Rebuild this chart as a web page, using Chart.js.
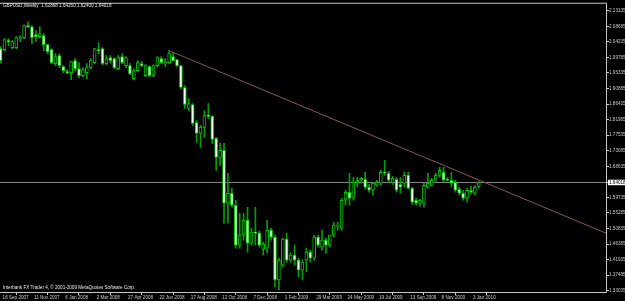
<!DOCTYPE html>
<html>
<head>
<meta charset="utf-8">
<script src="https://cdn.jsdelivr.net/npm/chart.js@4.4.1/dist/chart.umd.min.js"></script>
<style>
  html, body { margin: 0; padding: 0; background: #000; }
  #wrap { width: 625px; height: 301px; }
</style>
</head>
<body>
<div id="wrap"><canvas id="chart"></canvas></div>
<script>
/* GBPUSD weekly candles, 16 Sep 2007 .. 17 Jan 2010 (bar index 0..122) */
const OPEN = [2.0229,2.0201,2.0458,2.0258,2.0258,2.0515,2.0543,2.0886,2.0857,2.0629,
  2.0572,2.0600,2.0344,2.0201,1.9801,2.0030,1.9716,1.9573,1.9545,1.9887,
  1.9659,1.9459,1.9545,1.9687,1.9830,2.0201,2.0229,1.9801,1.9973,1.9944,
  1.9659,2.0001,1.9744,1.9744,1.9373,1.9602,1.9801,1.9459,1.9716,1.9459,
  1.9744,1.9944,1.9830,1.9830,2.0001,1.9916,1.9744,1.9117,1.8517,1.8632,
  1.8118,1.7804,1.7976,1.8318,1.8290,1.7662,1.7120,1.7319,1.5807,1.6093,
  1.5750,1.4609,1.4894,1.5322,1.4666,1.4980,1.4951,1.4495,1.4523,1.5037,
  1.4837,1.3611,1.4039,1.4780,1.4181,1.4324,1.4181,1.3896,1.4181,1.4409,
  1.4238,1.4837,1.4552,1.4752,1.4609,1.4894,1.5151,1.5094,1.5893,1.6121,
  1.5950,1.6406,1.6464,1.6492,1.6264,1.6178,1.6321,1.6378,1.6692,1.6664,
  1.6406,1.6492,1.6349,1.6378,1.6606,1.6235,1.5893,1.5807,1.5807,1.6264,
  1.6321,1.6464,1.6606,1.6692,1.6492,1.6464,1.6406,1.6207,1.6093,1.5950,
  1.6178,1.6093,1.62868];
const HIGH = [2.0286,2.0515,2.0515,2.0458,2.0572,2.0600,2.0914,2.0999,2.0886,2.0743,
  2.0857,2.0657,2.0344,2.0229,2.0087,2.0087,1.9744,1.9630,1.9859,1.9944,
  1.9830,1.9687,1.9801,1.9944,2.0229,2.0401,2.0258,2.0030,2.0030,1.9973,
  2.0030,2.0087,2.0001,1.9801,1.9659,1.9887,1.9859,1.9773,1.9744,1.9773,
  2.0001,2.0001,1.9944,2.0172,2.0115,1.9916,1.9744,1.9174,1.8803,1.8660,
  1.8175,1.8033,1.8461,1.8660,1.8318,1.7690,1.7519,1.7519,1.6664,1.6235,
  1.5893,1.5522,1.5522,1.5693,1.5094,1.5693,1.5008,1.4694,1.5322,1.5094,
  1.4894,1.4238,1.4809,1.4951,1.4381,1.4609,1.4238,1.4181,1.4523,1.4467,
  1.4894,1.4894,1.5037,1.4809,1.4894,1.5265,1.5265,1.5950,1.6178,1.6664,
  1.6549,1.6549,1.6549,1.6692,1.6349,1.6406,1.6464,1.6749,1.7034,1.6720,
  1.6578,1.6549,1.6549,1.6692,1.6692,1.6264,1.5950,1.5921,1.6378,1.6664,
  1.6521,1.6664,1.6834,1.6834,1.6549,1.6692,1.6464,1.6264,1.6178,1.6235,
  1.6292,1.6321,1.64260];
const LOW = [1.9830,2.0172,2.0315,2.0229,2.0229,2.0429,2.0515,2.0829,2.0372,2.0429,
  2.0543,2.0172,2.0087,1.9801,1.9744,1.9687,1.9545,1.9516,1.9345,1.9602,
  1.9402,1.9431,1.9373,1.9659,1.9801,2.0087,1.9773,1.9773,1.9830,1.9659,
  1.9630,1.9801,1.9687,1.9488,1.9345,1.9573,1.9716,1.9431,1.9431,1.9431,
  1.9716,1.9801,1.9716,1.9801,1.9887,1.9716,1.9088,1.8517,1.8461,1.8033,
  1.7548,1.7405,1.7690,1.8232,1.7519,1.6749,1.6891,1.5237,1.5237,1.5693,
  1.4523,1.4523,1.4752,1.4409,1.4609,1.4609,1.4552,1.4324,1.4381,1.4752,
  1.3411,1.3325,1.3982,1.4124,1.4124,1.4039,1.3696,1.3611,1.3839,1.4124,
  1.4181,1.4552,1.4467,1.4381,1.4552,1.4837,1.5037,1.5037,1.5750,1.5750,
  1.5893,1.6264,1.6378,1.6207,1.6121,1.6036,1.6292,1.6321,1.6606,1.6406,
  1.6349,1.6121,1.6093,1.6264,1.6207,1.5779,1.5750,1.5722,1.5693,1.6235,
  1.6292,1.6435,1.6549,1.6406,1.6435,1.6264,1.6121,1.6036,1.5893,1.5836,
  1.6064,1.6036,1.62400];
const CLOSE = [1.9887,2.0486,2.0429,2.0429,2.0543,2.0543,2.0886,2.0857,2.0543,2.0572,
  2.0657,2.0344,2.0144,1.9830,2.0001,1.9744,1.9602,1.9545,1.9859,1.9659,
  1.9459,1.9630,1.9687,1.9887,2.0229,2.0172,1.9801,1.9944,1.9887,1.9687,
  1.9973,1.9830,1.9973,1.9516,1.9602,1.9830,1.9744,1.9744,1.9459,1.9744,
  1.9973,1.9830,1.9859,2.0087,1.9887,1.9744,1.9117,1.8632,1.8660,1.8090,
  1.7804,1.7976,1.8318,1.8290,1.7633,1.7120,1.7319,1.5807,1.6093,1.5750,
  1.4609,1.4894,1.5322,1.4666,1.4980,1.4951,1.4609,1.4637,1.5037,1.4837,
  1.3611,1.4181,1.4780,1.4181,1.4324,1.4181,1.3896,1.4124,1.4409,1.4238,
  1.4837,1.4609,1.4752,1.4609,1.4894,1.5180,1.5180,1.5893,1.6121,1.5950,
  1.6406,1.6464,1.6521,1.6264,1.6178,1.6378,1.6406,1.6692,1.6664,1.6464,
  1.6521,1.6178,1.6264,1.6606,1.6235,1.5836,1.5807,1.5893,1.6321,1.6378,
  1.6464,1.6606,1.6749,1.6464,1.6464,1.6378,1.6178,1.6093,1.5950,1.6178,
  1.6121,1.6264,1.64018];

const X_TICK_BARS = [0, 8, 16, 24, 32, 40, 48, 56, 64, 72, 80, 88, 96, 104, 112, 120];
const X_LABELS = ['16 Sep 2007', '11 Nov 2007', '6 Jan 2008', '2 Mar 2008', '27 Apr 2008', '22 Jun 2008',
  '17 Aug 2008', '12 Oct 2008', '7 Dec 2008', '1 Feb 2009', '29 Mar 2009', '24 May 2009',
  '19 Jul 2009', '13 Sep 2009', '8 Nov 2009', '3 Jan 2010'];
const Y_TICKS = [2.13135, 2.08685, 2.04235, 1.99785, 1.95335, 1.90885, 1.86435, 1.81985, 1.77535,
  1.73085, 1.68635, 1.59735, 1.55285, 1.50835, 1.46385, 1.41935, 1.37485, 1.33035];
const LAST_PRICE = 1.64018;
const TREND_BARS = [43, 154.45];
const TREND_PRICES = [2.0172, 1.4951];

const X_MIN = -0.15, X_MAX = 154.45;
const Y_MIN = 1.3268, Y_MAX = 2.1542;

const TITLE = 'GBPUSD,Weekly  1.62868 1.64260 1.62400 1.64018';
const COPYRIGHT = 'Interbank FX Trader 4, \u00a9 2001-2009 MetaQuotes Software Corp.';

const FONT = '"Liberation Sans", Arial, sans-serif';
const FG = '#c8c8c8';
const WICK = '#00a000';
const EDGE = '#00c400';

const bars = OPEN.map((o, i) => i);

// black background, frame and the two text lines MT4 puts inside the chart
const mtFrame = {
    id: 'mtFrame',
    beforeDraw(chart) {
        const { ctx, width, height } = chart;
        ctx.save();
        ctx.fillStyle = '#000';
        ctx.fillRect(0, 0, width, height);
        ctx.restore();
    },
    afterDraw(chart) {
        const { ctx, chartArea: a } = chart;
        ctx.save();
        ctx.strokeStyle = FG;
        ctx.lineWidth = 1;
        ctx.beginPath();
        ctx.moveTo(a.left, a.top + 0.5);
        ctx.lineTo(a.right + 0.5, a.top + 0.5);
        ctx.lineTo(a.right + 0.5, a.bottom + 0.5);
        ctx.lineTo(a.left, a.bottom + 0.5);
        ctx.stroke();
        ctx.font = '4.6px ' + FONT;
        ctx.fillStyle = '#e8e8e8';
        ctx.textBaseline = 'middle';
        ctx.fillText(TITLE, a.left + 3, a.top + 3);
        ctx.fillText(COPYRIGHT, a.left + 3, a.bottom - 4);
        ctx.restore();
    }
};

new Chart(document.getElementById('chart').getContext('2d'), {
    type: 'bar',
    data: {
        datasets: [
            {
                label: 'last', type: 'line', order: 5,
                data: [{ x: X_MIN, y: LAST_PRICE }, { x: X_MAX, y: LAST_PRICE }],
                borderColor: '#8c8c8c', borderWidth: 1, pointRadius: 0
            },
            {
                label: 'trend', type: 'line', order: 0,
                data: TREND_BARS.map((b, k) => ({ x: b, y: TREND_PRICES[k] })),
                borderColor: '#84584c', borderWidth: 1, pointRadius: 0
            },
            {
                label: 'wicks', order: 3, grouped: false,
                data: bars.map(i => ({ x: i, y: [LOW[i], HIGH[i]] })),
                backgroundColor: WICK, barThickness: 1, borderWidth: 0
            },
            {
                label: 'bodies', order: 2, grouped: false,
                data: bars.map(i => ({ x: i, y: [OPEN[i], CLOSE[i]] })),
                backgroundColor: ctx => CLOSE[ctx.dataIndex] >= OPEN[ctx.dataIndex] ? '#000' : '#eefcee',
                borderColor: EDGE, borderWidth: 1, borderSkipped: false,
                barThickness: 3, minBarLength: 1
            }
        ]
    },
    options: {
        responsive: true,
        maintainAspectRatio: false,
        animation: false,
        devicePixelRatio: 1,
        events: [],
        layout: { padding: { top: 2, left: 0, right: 0, bottom: 0 } },
        plugins: { legend: { display: false }, tooltip: { enabled: false } },
        scales: {
            x: {
                type: 'linear', min: X_MIN, max: X_MAX, offset: false,
                afterFit(s) { s.height = 9; },
                afterBuildTicks(s) { s.ticks = X_TICK_BARS.map(v => ({ value: v })); },
                grid: { drawOnChartArea: false, drawTicks: true, tickLength: 3, color: FG },
                border: { display: false },
                ticks: {
                    autoSkip: false, maxRotation: 0, align: 'start', labelOffset: 2, padding: 0,
                    color: FG, font: { family: FONT, size: 4.6 },
                    callback: v => X_LABELS[X_TICK_BARS.indexOf(v)]
                }
            },
            y: {
                type: 'linear', position: 'right', min: Y_MIN, max: Y_MAX,
                afterFit(s) { s.width = 19; },
                afterBuildTicks(s) { s.ticks = Y_TICKS.concat([LAST_PRICE]).map(v => ({ value: v })); },
                grid: { drawOnChartArea: false, drawTicks: true, tickLength: 3, color: FG },
                border: { display: false },
                ticks: {
                    autoSkip: false, padding: 0, crossAlign: 'near',
                    font: { family: FONT, size: 4.6 },
                    color: ctx => ctx.tick && ctx.tick.value === LAST_PRICE ? '#000' : FG,
                    showLabelBackdrop: ctx => !!(ctx.tick && ctx.tick.value === LAST_PRICE),
                    backdropColor: '#ffffff',
                    backdropPadding: { top: 0, bottom: 0, left: 1, right: 1 },
                    callback: v => v.toFixed(5)
                }
            }
        }
    },
    plugins: [mtFrame]
});
</script>
</body>
</html>
